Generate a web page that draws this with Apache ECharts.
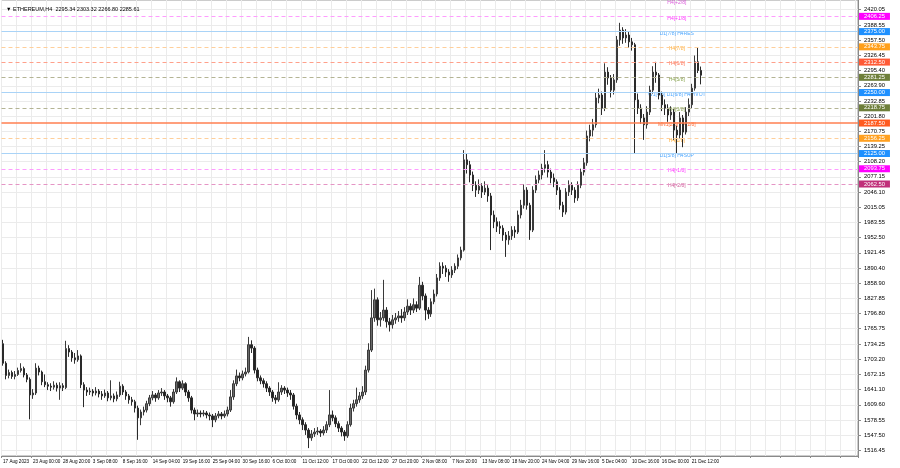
<!DOCTYPE html>
<html><head><meta charset="utf-8">
<script src="https://cdn.jsdelivr.net/npm/echarts@6/dist/echarts.min.js"></script>
<style>html,body{margin:0;padding:0;background:#fff}#c{width:900px;height:468px}</style>
</head><body><div id="c"></div>
<script>
const tickLabels = ['17 Aug 2023','23 Aug 00:00','28 Aug 20:00','3 Sep 08:00','8 Sep 16:00','14 Sep 04:00','19 Sep 16:00','25 Sep 04:00','30 Sep 16:00','6 Oct 00:00','11 Oct 12:00','17 Oct 00:00','22 Oct 12:00','27 Oct 20:00','2 Nov 08:00','7 Nov 20:00','13 Nov 08:00','18 Nov 20:00','24 Nov 04:00','29 Nov 16:00','5 Dec 04:00','10 Dec 16:00','16 Dec 00:00','21 Dec 12:00'];
const priceTicks = [2420.05,2388.55,2357.50,2326.45,2295.40,2263.90,2232.85,2201.80,2170.75,2139.25,2108.20,2077.15,2046.10,2015.05,1983.55,1952.50,1921.45,1890.40,1858.90,1827.85,1796.80,1765.75,1734.25,1703.20,1672.15,1641.10,1609.60,1578.55,1547.50,1516.45];

const opens = [1735,1695,1670,1676,1668,1672,1680,1684,1671,1662,
1630,1634,1685,1677,1657,1651,1648,1646,1650,1644,
1649,1645,1725,1718,1706,1702,1710,1651,1640,1636,
1638,1634,1638,1632,1628,1634,1624,1628,1622,1630,
1648,1636,1628,1620,1616,1603,1583,1595,1599,1612,
1624,1630,1624,1634,1636,1628,1624,1616,1636,1657,
1644,1653,1636,1624,1599,1591,1593,1591,1593,1589,
1587,1579,1587,1591,1587,1591,1599,1626,1653,1669,
1665,1673,1677,1733,1726,1681,1665,1659,1653,1644,
1636,1624,1620,1636,1644,1640,1634,1630,1607,1589,
1579,1569,1558,1542,1550,1554,1556,1552,1558,1569,
1589,1583,1571,1562,1554,1546,1569,1603,1612,1620,
1628,1636,1681,1722,1788,1825,1784,1788,1804,1780,
1774,1784,1788,1792,1788,1800,1812,1804,1815,1808,
1855,1833,1804,1796,1821,1837,1870,1894,1890,1882,
1876,1886,1894,1911,1927,2112,2102,2081,2060,2050,
2058,2046,2054,2038,1999,1985,1976,1972,1958,1948,
1956,1968,1964,1999,2019,2050,2019,1968,2050,2071,
2081,2095,2102,2087,2075,2067,2050,2019,2005,2046,
2060,2050,2034,2060,2087,2106,2161,2173,2184,2239,
2245,2218,2292,2280,2255,2276,2358,2378,2362,2368,
2354,2348,2235,2218,2198,2184,2210,2255,2292,2286,
2245,2225,2218,2204,2210,2173,2163,2198,2169,2210,
2225,2259,2313,2295.34];
const closes = [1695,1670,1676,1668,1672,1680,1684,1671,1662,1630,
1634,1685,1677,1657,1651,1648,1646,1650,1644,1649,
1645,1725,1718,1706,1702,1710,1651,1640,1636,1638,
1634,1638,1632,1628,1634,1624,1628,1622,1630,1648,
1636,1628,1620,1616,1603,1583,1595,1599,1612,1624,
1630,1624,1634,1636,1628,1624,1616,1636,1657,1644,
1653,1636,1624,1599,1591,1593,1591,1593,1589,1587,
1579,1587,1591,1587,1591,1599,1626,1653,1669,1665,
1673,1677,1733,1726,1681,1665,1659,1653,1644,1636,
1624,1620,1636,1644,1640,1634,1630,1607,1589,1579,
1569,1558,1542,1550,1554,1556,1552,1558,1569,1589,
1583,1571,1562,1554,1546,1569,1603,1612,1620,1628,
1636,1681,1722,1788,1825,1784,1788,1804,1780,1774,
1784,1788,1792,1788,1800,1812,1804,1815,1808,1855,
1833,1804,1796,1821,1837,1870,1894,1890,1882,1876,
1886,1894,1911,1927,2112,2102,2081,2060,2050,2058,
2046,2054,2038,1999,1985,1976,1972,1958,1948,1956,
1968,1964,1999,2019,2050,2019,1968,2050,2071,2081,
2095,2102,2087,2075,2067,2050,2019,2005,2046,2060,
2050,2034,2060,2087,2106,2161,2173,2184,2239,2245,
2218,2292,2280,2255,2276,2358,2378,2362,2368,2354,
2348,2235,2218,2198,2184,2210,2255,2292,2286,2245,
2225,2218,2204,2210,2173,2163,2198,2169,2210,2225,
2259,2313,2295.34,2285.61];
const highs = [1743,1699,1682,1680,1679,1686,1695,1688,1675,1666,
1642,1695,1690,1680,1672,1656,1654,1658,1655,1656,
1654,1741,1732,1722,1716,1722,1713,1656,1646,1645,
1642,1646,1642,1638,1641,1638,1660,1633,1637,1657,
1652,1640,1632,1626,1620,1608,1600,1606,1618,1630,
1638,1634,1640,1644,1640,1632,1628,1642,1666,1660,
1660,1656,1640,1628,1604,1600,1598,1599,1597,1594,
1591,1593,1597,1595,1598,1606,1640,1660,1682,1676,
1680,1686,1749,1742,1730,1686,1670,1664,1658,1648,
1640,1630,1656,1650,1648,1645,1640,1634,1612,1595,
1584,1574,1562,1558,1562,1564,1560,1566,1576,1640,
1598,1588,1576,1566,1558,1576,1612,1620,1645,1636,
1648,1690,1736,1845,1848,1830,1800,1866,1810,1788,
1794,1798,1802,1806,1810,1826,1818,1828,1822,1872,
1862,1838,1810,1828,1846,1878,1902,1902,1896,1888,
1894,1900,1918,1934,2132,2126,2110,2088,2068,2072,
2064,2068,2060,2044,2008,1994,1986,1978,1964,1966,
1976,1976,2008,2030,2062,2056,2024,2058,2080,2090,
2104,2132,2110,2094,2084,2072,2056,2026,2054,2070,
2066,2056,2068,2094,2116,2172,2184,2196,2250,2258,
2252,2310,2302,2286,2288,2366,2393,2384,2380,2374,
2362,2352,2248,2226,2206,2222,2264,2304,2313,2290,
2252,2236,2226,2222,2216,2182,2210,2204,2220,2238,
2268,2326,2343,2303.32];
const lows = [1690,1662,1664,1663,1662,1669,1676,1666,1656,1580,
1622,1630,1670,1650,1646,1640,1638,1641,1637,1620,
1638,1642,1708,1698,1694,1698,1644,1605,1628,1630,
1627,1629,1625,1620,1624,1617,1619,1615,1617,1626,
1630,1620,1612,1608,1594,1538,1568,1588,1594,1607,
1619,1616,1620,1628,1620,1615,1606,1612,1632,1636,
1640,1628,1616,1592,1578,1585,1584,1586,1582,1578,
1564,1574,1582,1580,1583,1586,1595,1620,1648,1658,
1660,1668,1674,1716,1674,1658,1652,1645,1636,1628,
1616,1612,1616,1630,1632,1626,1620,1600,1580,1570,
1558,1548,1521,1536,1544,1548,1544,1547,1552,1564,
1576,1564,1554,1545,1536,1542,1565,1596,1606,1614,
1622,1630,1676,1718,1780,1772,1770,1782,1768,1760,
1766,1776,1780,1778,1782,1794,1794,1798,1800,1804,
1824,1783,1786,1790,1816,1832,1864,1878,1872,1862,
1870,1880,1888,1906,1924,2084,2066,2048,2036,2042,
2034,2040,2026,1927,1972,1964,1960,1946,1913,1938,
1948,1952,1960,1992,2012,2010,1948,1964,2044,2064,
2072,2086,2076,2064,2056,2040,2010,1995,2000,2038,
2040,2024,2028,2054,2080,2100,2150,2160,2178,2228,
2204,2212,2266,2240,2246,2270,2346,2350,2352,2342,
2336,2126,2206,2186,2153,2176,2204,2248,2270,2236,
2212,2204,2190,2194,2153,2126,2156,2138,2164,2202,
2218,2254,2290,2266.80];

const levelValues = [2437.50,2406.25,2375.00,2343.75,2312.50,2281.25,2250.00,2218.75,2187.50,2156.25,2125.00,2093.75,2062.50];
const levelNames = ['H4[+2/8]','H4[+1/8]','D1[7/8] H4RES','H4[7/8]','H4[6/8]','H4[5/8]','W1[4/8] D1[6/8] H4PIVOT','H4[3/8]','MN1[2/8] H4[2/8]','H4[1/8]','D1[5/8] H4SUP','H4[-1/8]','H4[-2/8]'];
const lastPrice = 2285.61;
const chartTitle = 'ETHEREUM,H4  2295.34 2303.32 2266.80 2285.61';

// styles (not data)
const levelStyles = [
  {line:null, type:'dashed', box:null, text:'#d030d0'},
  {line:'#ff9cff', type:[4,3], box:'#ff00ff', text:'#ff00ff'},
  {line:'#a9d3f7', type:'solid', box:'#1e90ff', text:'#1e90ff'},
  {line:'#ffcf9a', type:[4,3], box:'#ff9f1a', text:'#ff9900'},
  {line:'#ffa08a', type:[4,3], box:'#ff5a36', text:'#ff4f2a'},
  {line:'#b4b494', type:[4,3], box:'#6e7f3a', text:'#6b8e23'},
  {line:'#a9d3f7', type:'solid', box:'#1e90ff', text:'#1e90ff'},
  {line:'#b4b494', type:[4,3], box:'#6e7f3a', text:'#6b8e23'},
  {line:'#ff7f50', type:'solid', width:1.5, box:'#ff5a1e', text:'#ff4500'},
  {line:'#ffcf9a', type:[4,3], box:'#ffa020', text:'#ff9900'},
  {line:'#a9d3f7', type:'solid', box:'#1e90ff', text:'#1e90ff'},
  {line:'#ff9cff', type:[4,3], box:'#ff00ff', text:'#ff00ff'},
  {line:'#e595c5', type:[4,3], box:'#c0307a', text:'#c0307a'}
];
const FONT = 'Liberation Sans';
const FS_PRICE = 5.8;
const FS_DATE = 4.6;
const FS_LVL = 5;
const N_CAT = 286;
const LABEL_CAT = 225;

const categories = [];
for (let i = 0; i < N_CAT; i++) categories.push(i % 10 === 0 && i / 10 < tickLabels.length ? tickLabels[i / 10] : '');
const candleData = closes.map((c, i) => [opens[i], c, lows[i], highs[i]]);

const levelLines = [];
const levelLabels = [];
levelValues.forEach((v, i) => {
  const s = levelStyles[i];
  if (s.line) {
    levelLines.push({
      yAxis: v,
      lineStyle: {color: s.line, type: s.type, width: s.width || 1, opacity: 1},
      label: {show: true, position: 'end', distance: 1, formatter: v.toFixed(2), backgroundColor: s.box, color: '#fff', fontSize: FS_PRICE, fontFamily: FONT, padding: [1, 5, 0, 5]}
    });
  }
  levelLabels.push({value: [LABEL_CAT, v], label: {color: s.text}});
});

const chart = echarts.init(document.getElementById('c'), null, {renderer: 'canvas'});
chart.setOption({
  animation: false,
  backgroundColor: '#ffffff',
  textStyle: {fontFamily: FONT},
  title: {text: '\u25BC ' + chartTitle, left: 1, top: 1, textStyle: {fontSize: 5.5, fontWeight: 'normal', color: '#000', fontFamily: FONT}},
  grid: {left: 0, right: 42, top: 0, bottom: 12, show: true, borderColor: '#9a9a9a', borderWidth: 1, backgroundColor: 'transparent'},
  xAxis: {
    type: 'category', data: categories, boundaryGap: true,
    axisLine: {show: true, lineStyle: {color: '#8a8a8a'}},
    axisTick: {show: true, interval: (i) => i % 10 === 0, length: 2, lineStyle: {color: '#8a8a8a'}},
    axisLabel: {interval: (i) => i % 10 === 0, showMinLabel: true, hideOverlap: false, align: 'left', fontSize: FS_DATE, color: '#000', margin: 3, fontFamily: FONT},
    splitLine: {show: true, interval: (i) => i % 5 === 0, lineStyle: {color: '#ebebeb'}}
  },
  yAxis: {
    type: 'value', position: 'right', min: 1504.8, max: 2439.8,
    axisLine: {show: true, lineStyle: {color: '#8a8a8a'}},
    axisTick: {show: true, customValues: priceTicks, length: 3, lineStyle: {color: '#8a8a8a'}},
    axisLabel: {customValues: priceTicks, formatter: (v) => v.toFixed(2), fontSize: FS_PRICE, color: '#000', margin: 6, fontFamily: FONT},
    splitLine: {show: true, lineStyle: {color: '#ebebeb'}}
  },
  series: [
    {
      type: 'scatter', z: 1, symbolSize: 1, itemStyle: {color: 'rgba(0,0,0,0)'},
      data: levelLabels,
      label: {show: true, position: 'inside', offset: [0, 2], formatter: (p) => levelNames[p.dataIndex], fontSize: FS_LVL, fontFamily: FONT},
      markLine: {silent: true, symbol: ['none', 'none'], animation: false, data: levelLines}
    },
    {
      type: 'candlestick', z: 3, data: candleData, barWidth: 2,
      itemStyle: {color: '#6a6a6a', color0: '#222222', borderColor: '#3a3a3a', borderColor0: '#2a2a2a', borderWidth: 1},
      markLine: {silent: true, symbol: ['none', 'none'], animation: false, data: [
        {yAxis: lastPrice, lineStyle: {opacity: 0}, label: {show: true, position: 'end', distance: 1, formatter: lastPrice.toFixed(2), backgroundColor: '#000', color: '#fff', fontSize: FS_PRICE, fontFamily: FONT, padding: [1, 5, 0, 5]}}
      ]}
    }
  ]
});
</script>
</body></html>
